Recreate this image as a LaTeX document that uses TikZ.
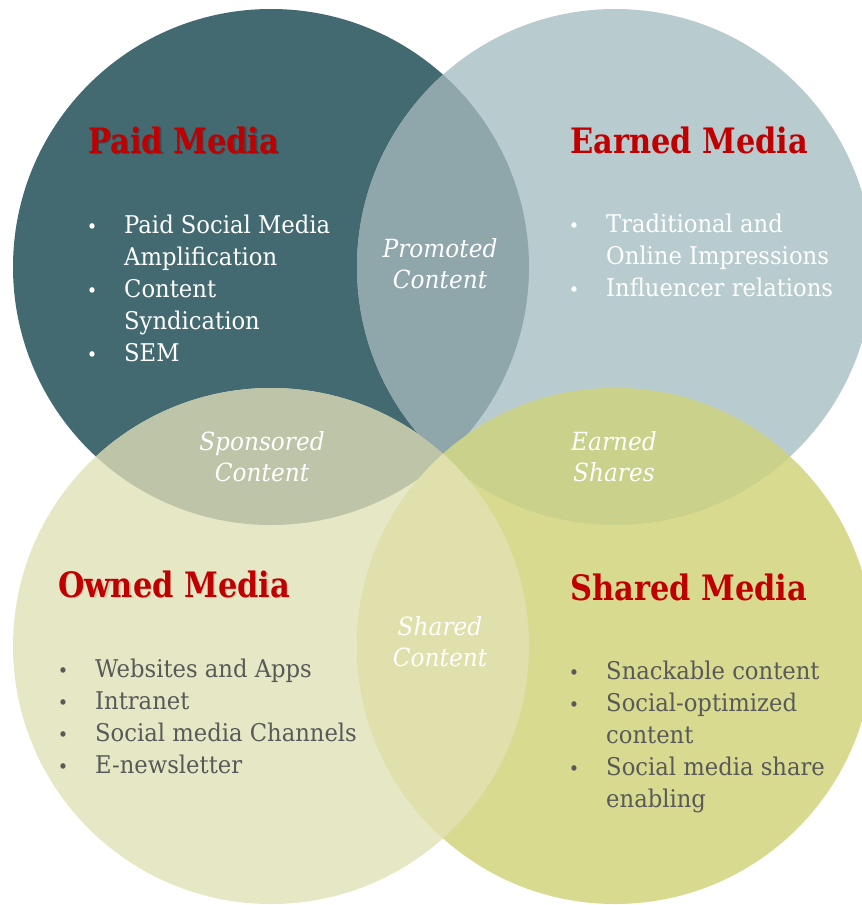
\documentclass[tikz,border=0pt]{standalone}
\usepackage{fontspec}
\setmainfont[FakeStretch=0.93]{DejaVu Serif}
\newfontfamily\titlefont[FakeStretch=0.87]{DejaVu Serif}
\definecolor{paidc}{HTML}{436A71}
\definecolor{earnedc}{HTML}{B8CBCE}
\definecolor{ownedc}{HTML}{E6E7C5}
\definecolor{sharedc}{HTML}{D8DA90}
\definecolor{promotedc}{HTML}{8FA6AB}
\definecolor{sponsoredc}{HTML}{BEC4A8}
\definecolor{earnshc}{HTML}{C9D18A}
\definecolor{sharecontc}{HTML}{E0E0AC}
\definecolor{titlered}{HTML}{C00000}
\definecolor{itemgray}{HTML}{595959}
\begin{document}
\begin{tikzpicture}[x=1pt,y=-1pt,
  item/.style={anchor=base west, inner sep=0pt, align=left, font=\fontsize{24.4}{32}\selectfont},
  bul/.style={anchor=base, inner sep=0pt, font=\fontsize{19}{32}\selectfont},
  ttl/.style={anchor=base west, inner sep=0pt, text=titlered, font=\titlefont\bfseries\fontsize{35}{38}\selectfont},
  ttlshadow/.style={anchor=base west, inner sep=0pt, text=black, opacity=0.25, font=\titlefont\bfseries\fontsize{35}{38}\selectfont},
  lens/.style={anchor=base, inner sep=0pt, text=white, align=center, font=\itshape\fontsize{25}{31}\selectfont}]
\useasboundingbox (0,0) rectangle (862,905);
\clip (0,0) rectangle (862,905);
\def\R{258}
\coordinate (P) at (271,267);
\coordinate (E) at (615,267);
\coordinate (O) at (271,646);
\coordinate (S) at (615,646);
% base circles
\fill[paidc] (P) circle (\R);
\fill[earnedc] (E) circle (\R);
\fill[ownedc] (O) circle (\R);
\fill[sharedc] (S) circle (\R);
% lenses
\begin{scope}\clip (P) circle (\R); \fill[promotedc] (E) circle (\R); \end{scope}
\begin{scope}\clip (P) circle (\R); \fill[sponsoredc] (O) circle (\R); \end{scope}
\begin{scope}\clip (E) circle (\R); \fill[earnshc] (S) circle (\R); \end{scope}
\begin{scope}\clip (O) circle (\R); \fill[sharecontc] (S) circle (\R); \end{scope}
% titles
\node[ttlshadow] at (89.5,154.5) {Paid Media};
\node[ttl] (tpaid) at (88,153) {Paid Media};
\node[ttl] (tearned) at (570,153) {Earned Media};
\node[ttlshadow, opacity=0.12] at (59.5,598.5) {Owned Media};
\node[ttl] (towned) at (58,597) {Owned Media};
\node[ttl] (tshared) at (570,600) {Shared Media};
% Paid items (multi-line nodes are placed by their last baseline)
\begin{scope}[every node/.append style={text=white}]
\node[bul] (pb1) at (92,233) {\textbullet};
\node[item] (pi1) at (124,265) {Paid Social Media\\Amplification};
\node[bul] (pb2) at (92,297) {\textbullet};
\node[item] (pi2) at (124,329) {Content\\Syndication};
\node[bul] (pb3) at (92,361) {\textbullet};
\node[item] (pi3) at (124,361) {SEM};
% Earned items
\node[bul] (eb1) at (574,232) {\textbullet};
\node[item] (ei1) at (606,264) {Traditional and\\Online Impressions};
\node[bul] (eb2) at (574,296) {\textbullet};
\node[item] (ei2) at (606,296) {Influencer relations};
\end{scope}
\begin{scope}[every node/.append style={text=itemgray}]
% Owned items
\node[bul] (ob1) at (63,677) {\textbullet};
\node[item] (oi1) at (95,677) {Websites and Apps};
\node[bul] (ob2) at (63,709) {\textbullet};
\node[item] (oi2) at (95,709) {Intranet};
\node[bul] (ob3) at (63,741) {\textbullet};
\node[item] (oi3) at (95,741) {Social media Channels};
\node[bul] (ob4) at (63,773) {\textbullet};
\node[item] (oi4) at (95,773) {E-newsletter};
% Shared items
\node[bul] (sb1) at (574,679) {\textbullet};
\node[item] (si1) at (606,679) {Snackable content};
\node[bul] (sb2) at (574,711) {\textbullet};
\node[item] (si2) at (606,743) {Social-optimized\\content};
\node[bul] (sb3) at (574,775) {\textbullet};
\node[item] (si3) at (606,807) {Social media share\\enabling};
\end{scope}
% lens labels (placed by their last baseline)
\node[lens] (lpromo) at (440,288) {Promoted\\Content};
\node[lens] (lspons) at (262,481) {Sponsored\\Content};
\node[lens] (learn) at (614,481) {Earned\\Shares};
\node[lens] (lshare) at (440,666) {Shared\\Content};
\end{tikzpicture}
\end{document}
